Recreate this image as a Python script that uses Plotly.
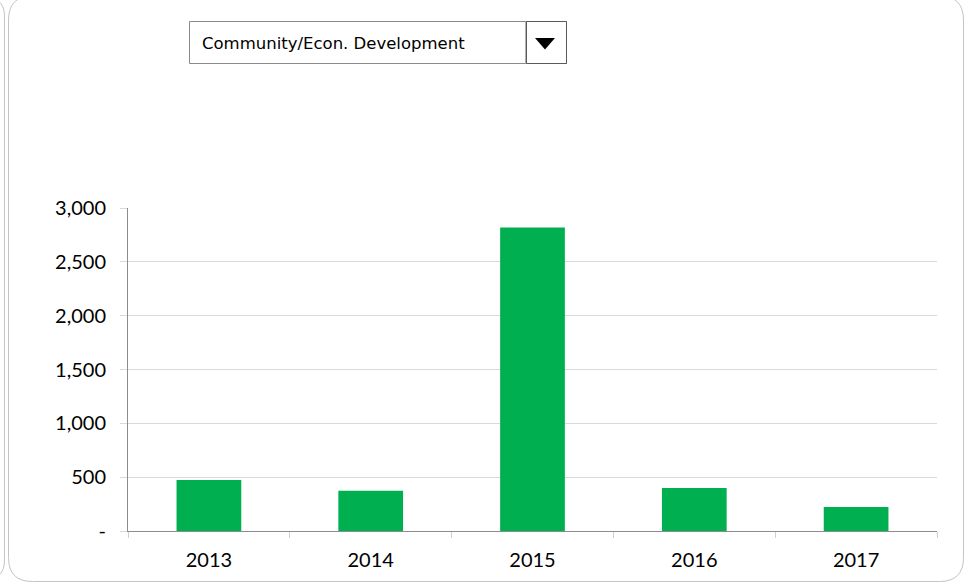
import plotly.graph_objects as go

# ---- data ----
years = ["2013", "2014", "2015", "2016", "2017"]
values = [473, 374, 2820, 399, 223]
y_tickvals = [0, 500, 1000, 1500, 2000, 2500, 3000]
y_ticktext = ["-", "500", "1,000", "1,500", "2,000", "2,500", "3,000"]
dropdown_label = "Community/Econ. Development"

W, H = 975, 584
L, R, T, B = 128, 38, 208, 53
PW, PH = W - L - R, H - T - B


def px(x):
    return (x - L) / PW


def py(y):
    return (H - B - y) / PH


def path(points, close=False):
    s = "M " + " L ".join(f"{px(x)},{py(y)}" for x, y in points)
    return s + (" Z" if close else "")


def rounded_rect(x0, y0, x1, y1, r):
    return (
        f"M {px(x0 + r)},{py(y0)} L {px(x1 - r)},{py(y0)} "
        f"Q {px(x1)},{py(y0)} {px(x1)},{py(y0 + r)} "
        f"L {px(x1)},{py(y1 - r)} Q {px(x1)},{py(y1)} {px(x1 - r)},{py(y1)} "
        f"L {px(x0 + r)},{py(y1)} Q {px(x0)},{py(y1)} {px(x0)},{py(y1 - r)} "
        f"L {px(x0)},{py(y0 + r)} Q {px(x0)},{py(y0)} {px(x0 + r)},{py(y0)} Z"
    )


fig = go.Figure(
    go.Bar(
        x=years,
        y=values,
        marker=dict(color="#00B050", line=dict(width=0)),
        hoverinfo="x+y",
    )
)

shapes = []
# outer chart frame
shapes.append(dict(type="path", xref="paper", yref="paper",
                   path=rounded_rect(8.5, -4, 963.5, 581.5, 24),
                   line=dict(color="#c4c4c4", width=1), layer="below"))
# neighbouring frame edge on the left
shapes.append(dict(type="path", xref="paper", yref="paper",
                   path=(f"M {px(-20)},{py(-4)} Q {px(4.5)},{py(-4)} {px(4.5)},{py(16)} "
                         f"L {px(4.5)},{py(560)} Q {px(4.5)},{py(581.5)} {px(-20)},{py(581.5)}"),
                   line=dict(color="#c4c4c4", width=1), layer="below"))
# dropdown box
shapes.append(dict(type="rect", xref="paper", yref="paper",
                   x0=px(189.5), x1=px(566.5), y0=py(21.5), y1=py(63.5),
                   line=dict(color="#8a8a8a", width=1), fillcolor="white"))
shapes.append(dict(type="line", xref="paper", yref="paper",
                   x0=px(526), x1=px(526), y0=py(21.5), y1=py(63.5),
                   line=dict(color="#b0b0b0", width=2)))
shapes.append(dict(type="rect", xref="paper", yref="paper",
                   x0=px(526.5), x1=px(566.5), y0=py(21.5), y1=py(63.5),
                   line=dict(color="#5a5a5a", width=1)))
shapes.append(dict(type="path", xref="paper", yref="paper",
                   path=path([(535, 38), (555, 38), (545, 49.5)], close=True),
                   fillcolor="black", line=dict(color="black", width=0)))

annotations = [
    dict(xref="paper", yref="paper", x=px(200), y=py(44), xanchor="left",
         yanchor="middle", text=dropdown_label, showarrow=False,
         font=dict(family="DejaVu Sans", size=16.5, color="#000000"))
]

fig.update_layout(
    width=W, height=H, autosize=False,
    margin=dict(l=L, r=R, t=T, b=B, pad=0),
    paper_bgcolor="white", plot_bgcolor="white",
    showlegend=False,
    bargap=0.6,
    shapes=shapes,
    annotations=annotations,
    font=dict(family="Lato", size=20, color="#000000"),
    xaxis=dict(
        type="category", range=[-0.5, 4.5],
        showline=True, linecolor="#8c8c8c", linewidth=1,
        ticks="outside", tickson="boundaries", ticklen=6, tickcolor="#d0d0d0",
        showgrid=False, ticklabelstandoff=11,
        tickfont=dict(family="Lato", size=20, color="#000000"),
    ),
    yaxis=dict(
        range=[0, 3000], tickvals=y_tickvals, ticktext=y_ticktext,
        showline=True, linecolor="#8c8c8c", linewidth=1,
        ticks="outside", ticklen=7, tickcolor="#d9d9d9",
        showgrid=True, gridcolor="#d9d9d9", gridwidth=1,
        zeroline=False, ticklabelstandoff=10,
        tickfont=dict(family="Lato", size=20, color="#000000"),
    ),
)

fig.write_html(
    "out.html",
    config={"displayModeBar": False},
    post_script="document.body.style.margin='0';document.body.style.overflow='hidden';",
)
